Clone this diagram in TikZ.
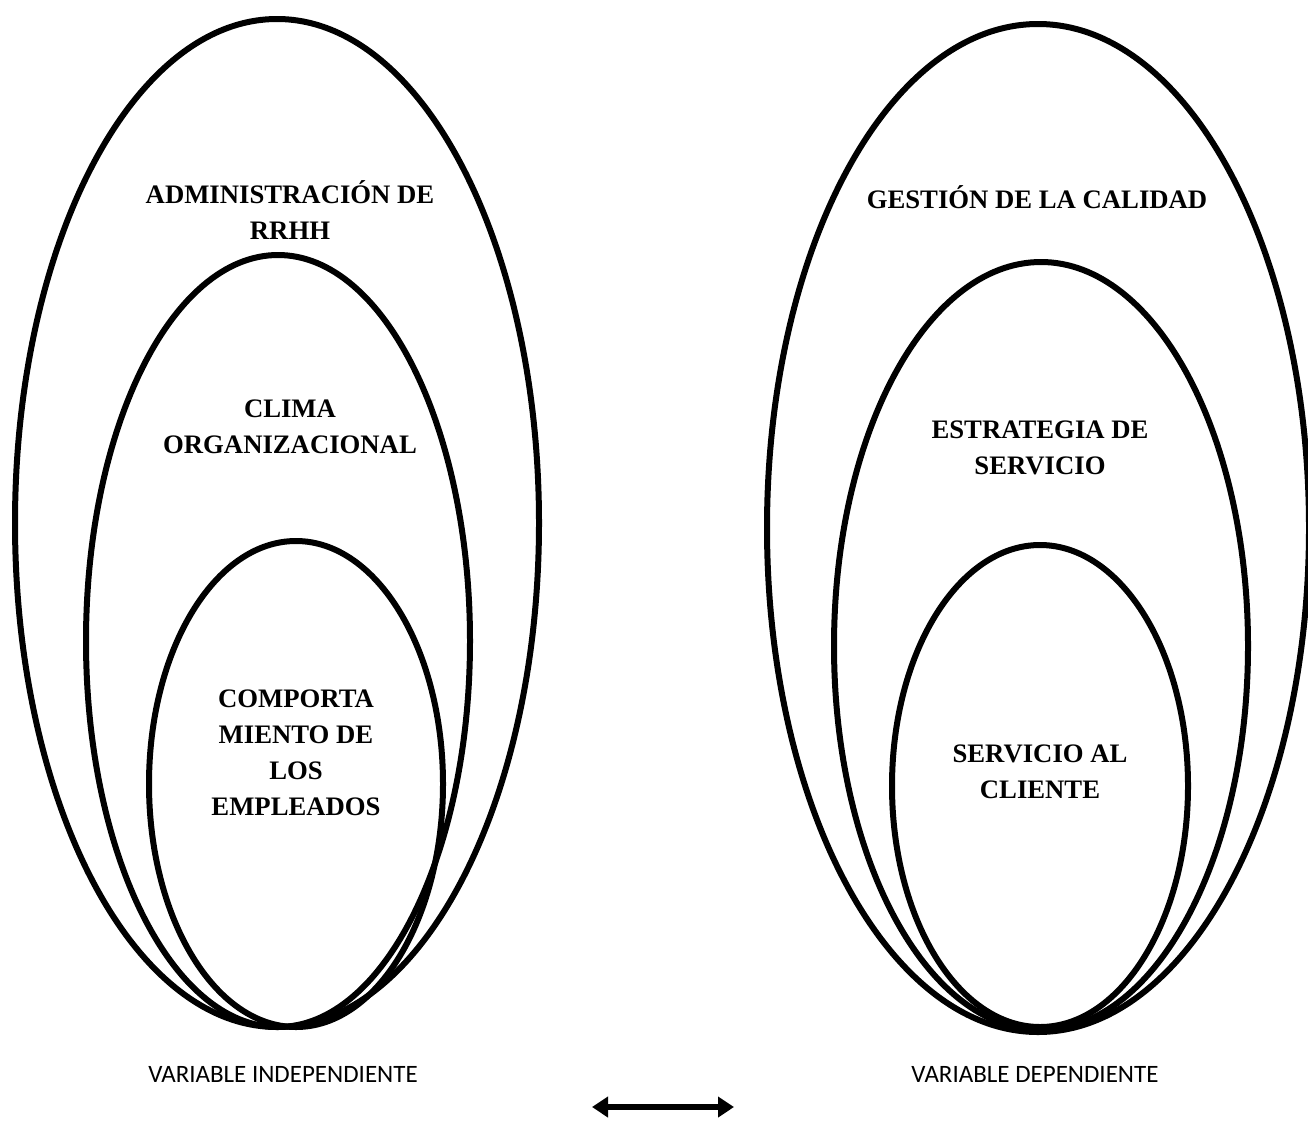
\documentclass[tikz,border=0pt]{standalone}
\usepackage{fontspec}
\setmainfont{Liberation Serif}
\newfontfamily\calib{Carlito}
\usetikzlibrary{arrows.meta}
\begin{document}
\begin{tikzpicture}[x=1pt,y=-1pt,
  ring/.style={draw=black,line width=6pt},
  lbl/.style={align=center,font=\fontsize{26.7}{36}\selectfont\bfseries,inner sep=0pt},
  varlbl/.style={font=\calib\fontsize{25}{28}\selectfont,inner sep=0pt},
  dblarrow/.style={line width=6pt,{Triangle[length=16pt,width=20pt]}-{Triangle[length=16pt,width=20pt]}}]
\useasboundingbox (0,0) rectangle (1308,1143);
\begin{scope}
\clip (0,0) rectangle (1308,1143);
% left set
\draw[ring] (277,523) ellipse [x radius=262pt, y radius=504pt];
\draw[ring] (278,641) ellipse [x radius=192pt, y radius=386pt];
\draw[ring] (296,784) ellipse [x radius=147pt, y radius=243pt];
% right set
\draw[ring] (1038,528) ellipse [x radius=271pt, y radius=504pt];
\draw[ring] (1041,646) ellipse [x radius=207pt, y radius=384pt];
\draw[ring] (1040,786) ellipse [x radius=148pt, y radius=241pt];
\end{scope}
\node[lbl] (adm) at (290,210) {ADMINISTRACIÓN DE\\RRHH};
\node[lbl] (clima) at (290,427) {CLIMA\\ORGANIZACIONAL};
\node[lbl] (comp) at (296,753) {COMPORTA\\MIENTO DE\\LOS\\EMPLEADOS};
\node[lbl] (gest) at (1037,197) {GESTIÓN DE LA CALIDAD};
\node[lbl] (estr) at (1040,448) {ESTRATEGIA DE\\SERVICIO};
\node[lbl] (serv) at (1040,772) {SERVICIO AL\\CLIENTE};
\node[varlbl] (vi) at (283,1074) {VARIABLE INDEPENDIENTE};
\node[varlbl] (vd) at (1035,1074) {VARIABLE DEPENDIENTE};
\coordinate (al) at (592,1107);
\coordinate (ar) at (734,1107);
\draw[dblarrow] (al) -- (ar);
\end{tikzpicture}
\end{document}
